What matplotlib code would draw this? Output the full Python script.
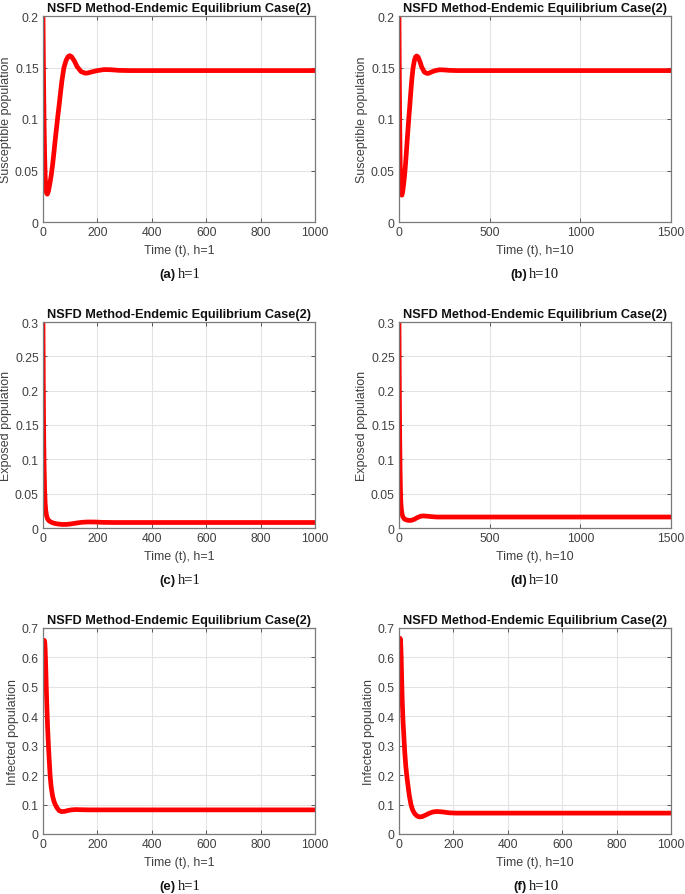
import matplotlib
matplotlib.use("Agg")
import matplotlib.pyplot as plt
from matplotlib.ticker import FuncFormatter

plt.rcParams['font.family'] = ['Liberation Sans', 'DejaVu Sans']

# ---------------- data ----------------
t_S_a = [0, 2, 4, 6, 8, 10, 13, 16, 20, 25, 30, 35, 40, 45, 50, 55, 60, 65, 70, 77, 85, 92, 98, 105,
         115, 125, 140, 155, 165, 180, 200, 225, 250, 280, 320, 1000]
S_a = [0.2, 0.14, 0.095, 0.065, 0.045, 0.034, 0.028, 0.027, 0.03, 0.037, 0.045, 0.055, 0.067, 0.08,
       0.092, 0.104, 0.115, 0.127, 0.138, 0.15, 0.157, 0.1605, 0.1615, 0.1605, 0.1565, 0.151, 0.146,
       0.1445, 0.1447, 0.1458, 0.147, 0.148, 0.1478, 0.1472, 0.147, 0.147]

t_S_b = [0, 2, 4, 6, 8, 10, 13, 16, 20, 25, 30, 35, 40, 45, 50, 55, 60, 65, 70, 77, 85, 92, 98, 105,
         115, 125, 140, 155, 165, 180, 200, 225, 250, 280, 320, 1500]
S_b = [0.2, 0.14, 0.095, 0.063, 0.043, 0.032, 0.027, 0.026, 0.029, 0.036, 0.044, 0.054, 0.066, 0.079,
       0.091, 0.103, 0.114, 0.126, 0.137, 0.149, 0.157, 0.1605, 0.1612, 0.1602, 0.156, 0.1505, 0.1455,
       0.1442, 0.1445, 0.1457, 0.147, 0.1478, 0.1476, 0.1472, 0.147, 0.147]

t_E_c = [0, 1, 2, 3, 4, 6, 8, 10, 13, 17, 22, 30, 40, 55, 70, 85, 100, 120, 140, 165, 190, 220, 260, 1000]
E_c = [0.3, 0.22, 0.16, 0.12, 0.09, 0.055, 0.036, 0.026, 0.018, 0.013, 0.0105, 0.0085, 0.007, 0.0058,
       0.0052, 0.0052, 0.0058, 0.007, 0.0082, 0.0088, 0.0087, 0.0082, 0.008, 0.008]

t_E_d = [0, 2, 4, 6, 8, 10, 13, 17, 22, 30, 40, 55, 70, 85, 100, 120, 135, 155, 180, 210, 1500]
E_d = [0.3, 0.2, 0.13, 0.085, 0.055, 0.038, 0.027, 0.02, 0.016, 0.013, 0.0118, 0.011, 0.0112, 0.0128,
       0.015, 0.0172, 0.0176, 0.0172, 0.0165, 0.016, 0.016]

t_I_e = [0, 1, 2, 3, 4, 5, 6, 7, 8, 10, 12, 14, 17, 20, 23, 26, 30, 35, 40, 45, 52, 60, 69, 80, 92,
         105, 120, 140, 170, 1000]
I_e = [0.5, 0.57, 0.62, 0.645, 0.655, 0.658, 0.655, 0.645, 0.625, 0.57, 0.5, 0.44, 0.36, 0.3, 0.25,
       0.2, 0.16, 0.13, 0.112, 0.1, 0.088, 0.079, 0.076, 0.077, 0.08, 0.082, 0.083, 0.0825, 0.082, 0.082]

t_I_f = [0, 1, 2, 3, 4, 5, 6, 7, 8, 10, 12, 15, 18, 21, 25, 29, 33, 38, 44, 50, 57, 65, 75, 85, 95,
         110, 125, 140, 160, 185, 210, 1000]
I_f = [0.5, 0.58, 0.635, 0.658, 0.665, 0.662, 0.65, 0.63, 0.6, 0.52, 0.45, 0.38, 0.33, 0.28, 0.23,
       0.195, 0.165, 0.13, 0.1, 0.082, 0.07, 0.062, 0.058, 0.059, 0.063, 0.07, 0.075, 0.0765, 0.075,
       0.072, 0.071, 0.071]

title = "NSFD Method-Endemic Equilibrium Case(2)"
panels = [
    dict(t=t_S_a, y=S_a, xlim=1000, xt=[0, 200, 400, 600, 800, 1000], ylim=0.2,
         yt=[0, 0.05, 0.1, 0.15, 0.2], ylab="Susceptible population", xlab="Time (t), h=1",
         cap="(a)", h="h=1"),
    dict(t=t_S_b, y=S_b, xlim=1500, xt=[0, 500, 1000, 1500], ylim=0.2,
         yt=[0, 0.05, 0.1, 0.15, 0.2], ylab="Susceptible population", xlab="Time (t), h=10",
         cap="(b)", h="h=10"),
    dict(t=t_E_c, y=E_c, xlim=1000, xt=[0, 200, 400, 600, 800, 1000], ylim=0.3,
         yt=[0, 0.05, 0.1, 0.15, 0.2, 0.25, 0.3], ylab="Exposed population", xlab="Time (t), h=1",
         cap="(c)", h="h=1"),
    dict(t=t_E_d, y=E_d, xlim=1500, xt=[0, 500, 1000, 1500], ylim=0.3,
         yt=[0, 0.05, 0.1, 0.15, 0.2, 0.25, 0.3], ylab="Exposed population", xlab="Time (t), h=10",
         cap="(d)", h="h=10"),
    dict(t=t_I_e, y=I_e, xlim=1000, xt=[0, 200, 400, 600, 800, 1000], ylim=0.7,
         yt=[0, 0.1, 0.2, 0.3, 0.4, 0.5, 0.6, 0.7], ylab="Infected population", xlab="Time (t), h=1",
         cap="(e)", h="h=1"),
    dict(t=t_I_f, y=I_f, xlim=1000, xt=[0, 200, 400, 600, 800, 1000], ylim=0.7,
         yt=[0, 0.1, 0.2, 0.3, 0.4, 0.5, 0.6, 0.7], ylab="Infected population", xlab="Time (t), h=10",
         cap="(f)", h="h=10"),
]

W, H = 685, 895
fig = plt.figure(figsize=(W / 100, H / 100), dpi=100)

lefts = [43, 399]
right_w = 272
tops = [17, 323, 629]
ax_h = 206
cap_split = [176, 527]

fmt = FuncFormatter(lambda v, p: ("%g" % round(v, 6)))
tick_col = "#404040"

for i, p in enumerate(panels):
    row, col = divmod(i, 2)
    l = lefts[col]
    t = tops[row]
    ax = fig.add_axes([l / W, 1 - (t + ax_h) / H, right_w / W, ax_h / H])
    ax.plot(p["t"], p["y"], color="#ff0000", lw=3.4, solid_joinstyle="round", solid_capstyle="round")
    ax.set_xlim(0, p["xlim"])
    ax.set_ylim(0, p["ylim"])
    ax.set_xticks(p["xt"])
    ax.set_yticks(p["yt"])
    ax.xaxis.set_major_formatter(fmt)
    ax.yaxis.set_major_formatter(fmt)
    ax.grid(True, color="#e3e3e3", lw=0.8)
    ax.set_axisbelow(True)
    ax.tick_params(direction="in", top=True, right=True, length=3, width=0.7,
                   colors="#555555", labelcolor=tick_col, labelsize=8.8, pad=3)
    for s in ax.spines.values():
        s.set_color("#7a7a7a")
        s.set_linewidth(0.9)
    ax.set_title(title, fontsize=9.2, fontweight="bold", pad=3.5, color="#111111")
    ax.set_ylabel(p["ylab"], fontsize=9, color=tick_col, labelpad=2)
    ax.set_xlabel(p["xlab"], fontsize=9, color=tick_col, labelpad=4)
    cy = 1 - (t + ax_h + 52) / H
    fig.text(cap_split[col] / W, cy, p["cap"], ha="right", va="center", fontsize=9.5,
             fontweight="bold", color="#111111")
    fig.text((cap_split[col] + 2) / W, cy, p["h"], ha="left", va="center", fontsize=10.5,
             family="Liberation Serif", color="#111111")

fig.savefig("out.png", dpi=100, facecolor="white")
